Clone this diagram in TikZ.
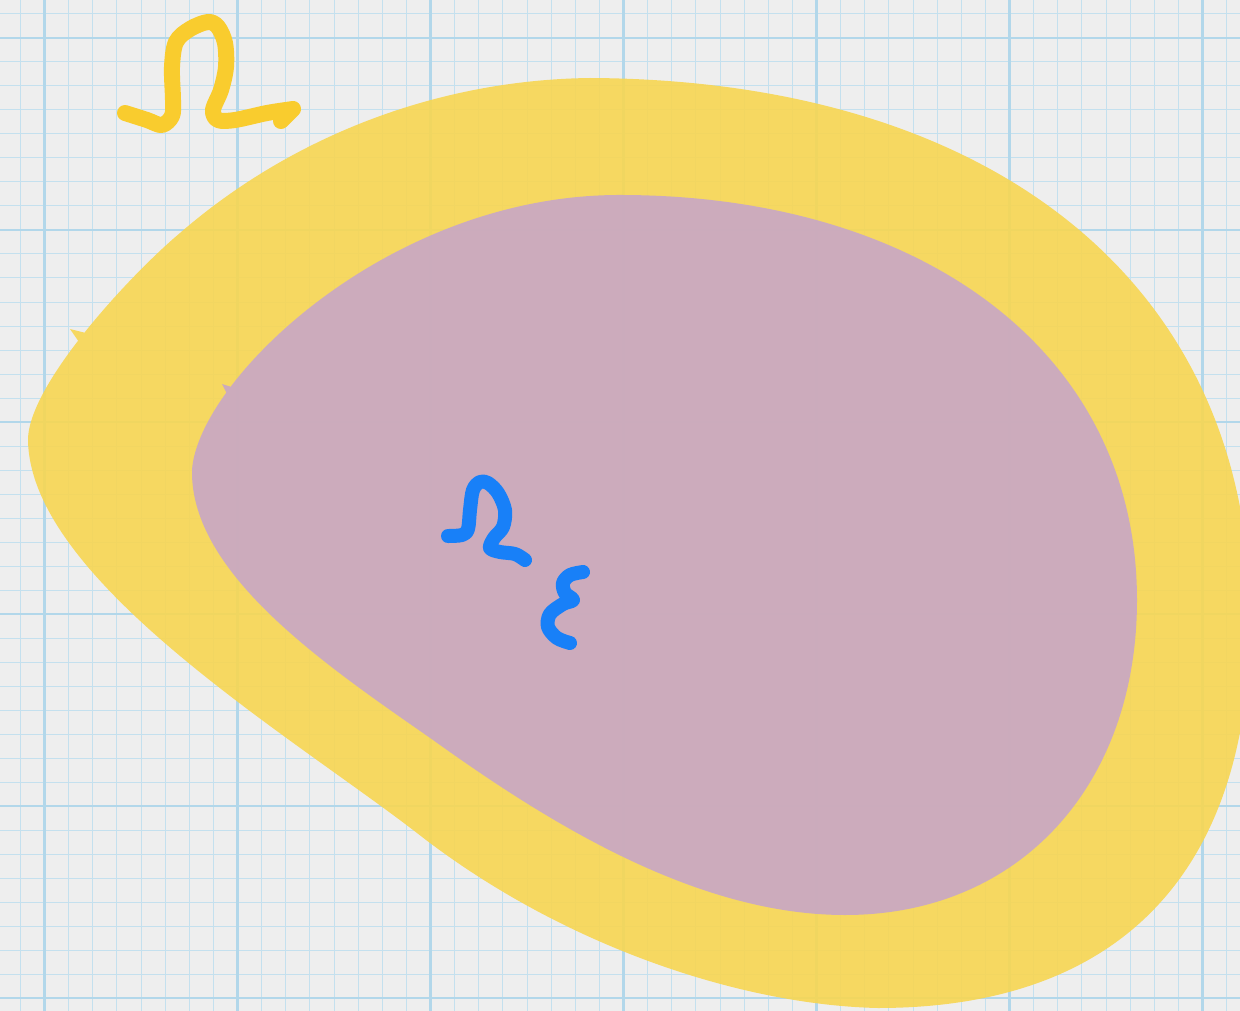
\documentclass[tikz,border=0pt]{standalone}
\definecolor{paper}{HTML}{EEEEEE}
\definecolor{gridminor}{HTML}{C4E0EE}
\definecolor{gridmajor}{HTML}{B2D7EA}
\definecolor{yellowfill}{HTML}{F7D652}
\definecolor{pinkfill}{HTML}{C8A7C6}
\definecolor{yellowpen}{HTML}{F9CC2E}
\definecolor{bluepen}{HTML}{1880F8}
\tikzset{
  minorline/.style={gridminor, line width=1pt},
  majorline/.style={gridmajor, line width=2.4pt},
  blobfill/.style={fill opacity=0.9},
  penstroke/.style={line width=16pt, line cap=round, line join=round},
  bluestroke/.style={bluepen, line width=14pt, line cap=round, line join=round}
}
\begin{document}
\begin{tikzpicture}[x=1pt,y=-1pt]
\useasboundingbox (0,0) rectangle (1240,1011);
\fill[paper] (0,0) rectangle (1240,1011);
% grid
\foreach \k in {-1,...,49} \draw[minorline] ({44.5+24.125*\k},0) -- ({44.5+24.125*\k},1011);
\foreach \k in {-1,...,40} \draw[minorline] (0,{38+24*\k}) -- (1240,{38+24*\k});
\foreach \k in {0,...,6} \draw[majorline] ({44.5+193*\k},0) -- ({44.5+193*\k},1011);
\foreach \k in {0,...,5} \draw[majorline] (0,{38+192*\k}) -- (1240,{38+192*\k});
% outer domain Omega
\fill[yellowfill, blobfill]
 (590,78) .. controls (1000,80) and (1252,290) .. (1250,620)
 .. controls (1250,872) and (1120,1008) .. (878,1008)
 .. controls (740,1005) and (560,945) .. (417,833)
 .. controls (290,735) and (30,580) .. (28,440)
 .. controls (28,385) and (130,275) .. (180,233)
 .. controls (286,141) and (430,80) .. (590,78) -- cycle
 (79,342) -- (70,329) -- (90,334) -- cycle;
% inner domain Omega_epsilon
\fill[pinkfill, blobfill]
 (623,195) .. controls (920,196) and (1137,350) .. (1137,600)
 .. controls (1137,785) and (1020,915) .. (845,915)
 .. controls (695,915) and (546,821) .. (433,740)
 .. controls (330,668) and (190,575) .. (192,470)
 .. controls (198,380) and (390,193) .. (623,195) -- cycle
 (228,396) -- (222,384) -- (238,389) -- cycle;
% handwritten Omega (yellow)
\coordinate (yh) at (281,121);
\draw[yellowpen, penstroke] plot[smooth, tension=0.55] coordinates {
 (125,113) (147,120) (162,125) (172,116) (173,100) (172,67) (176,42)
 (190,29) (208,22) (218,27) (225,43) (226,67) (221,90) (213,110)
 (218,120) (235,120) (267,113) (293,109)} -- (yh);
% handwritten Omega_epsilon (blue)
\draw[bluestroke] plot[smooth, tension=0.55] coordinates {
 (448,536) (462,535) (468,529) (470,510) (473,490) (480,482) (488,483)
 (498,493) (505,510) (503,527) (494,538) (490,548) (500,552) (515,554) (525,560)};
\draw[bluestroke] plot[smooth, tension=0.55] coordinates {
 (583,572) (570,575) (563,583) (565,593) (573,600) (563,604) (550,614)
 (548,627) (557,638) (570,643)};
\end{tikzpicture}
\end{document}
